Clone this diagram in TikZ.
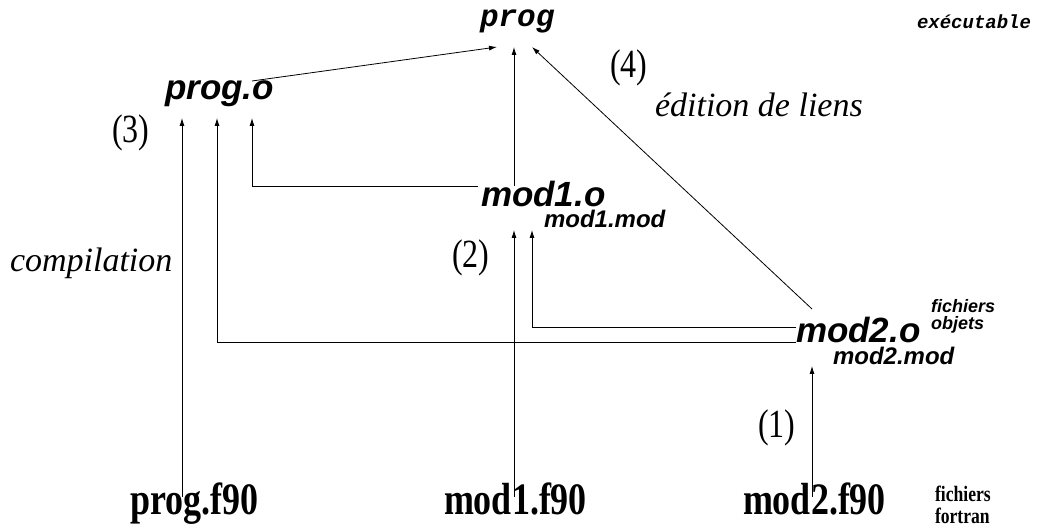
\documentclass[tikz,border=0pt]{standalone}
\usepackage{fontspec}
\setmainfont{Liberation Serif}
\setsansfont{Liberation Sans}
\setmonofont{Liberation Mono}
\usetikzlibrary{arrows.meta}
\tikzset{
  conn/.style={line width=0.8pt,-{Latex[length=8pt,width=5pt]}},
  lbl/.style={anchor=base west,inner sep=0pt,outer sep=0pt},
  exe/.style={lbl,font=\fontsize{31}{31}\ttfamily\bfseries\itshape},
  obj/.style={lbl,font=\fontsize{35}{35}\sffamily\bfseries\itshape},
  modf/.style={lbl,font=\fontsize{24}{24}\sffamily\bfseries\itshape},
  smallsans/.style={lbl,font=\fontsize{18}{18}\sffamily\bfseries\itshape},
  src/.style={lbl,font=\fontsize{45}{45}\rmfamily\bfseries},
  num/.style={lbl,font=\fontsize{40}{40}\rmfamily},
  step text/.style={lbl,font=\fontsize{34}{34}\rmfamily\itshape},
  smallser/.style={lbl,font=\fontsize{22}{22}\rmfamily\bfseries},
}
\newcommand{\narrow}[1]{\scalebox{0.8}[1]{#1}}
\begin{document}
\begin{tikzpicture}[x=1pt,y=-1pt]
\useasboundingbox (0,0) rectangle (1037,526);
% labels
\node[exe] (prog) at (480,27) {prog};
\node[lbl,font=\fontsize{19}{19}\ttfamily\bfseries\itshape] (exec) at (917,29) {exécutable};
\node[obj] (progo) at (165,100) {prog.o};
\node[num] (n4) at (610,78) {\narrow{(4)}};
\node[step text] (edl) at (655,117) {édition de liens};
\node[num] (n3) at (112,143) {\narrow{(3)}};
\node[obj] (mod1o) at (481,207) {mod1.o};
\node[modf] (mod1mod) at (544,228) {mod1.mod};
\node[num] (n2) at (452,268) {\narrow{(2)}};
\node[step text] (comp) at (10,272) {compilation};
\node[smallsans] (fobj1) at (931,313) {fichiers};
\node[smallsans] (fobj2) at (931,330) {objets};
\node[obj] (mod2o) at (796,343) {mod2.o};
\node[modf] (mod2mod) at (833,365) {mod2.mod};
\node[num] (n1) at (758,438) {\narrow{(1)}};
\node[src] (progf) at (130,515) {\narrow{prog.f90}};
\node[src] (mod1f) at (444,515) {\narrow{mod1.f90}};
\node[src] (mod2f) at (743,515) {\narrow{mod2.f90}};
\node[smallser] (ff1) at (935,502) {\narrow{fichiers}};
\node[smallser] (ff2) at (935,524) {\narrow{fortran}};
% anchor points
\coordinate (pA) at (182,118);
\coordinate (pB) at (217,118);
\coordinate (pC) at (252,118);
\coordinate (pD) at (252,81);
\coordinate (gA) at (497,47);
\coordinate (gB) at (514,47);
\coordinate (gC) at (532,47);
\coordinate (m1top) at (514,186);
\coordinate (m1l) at (478,186);
\coordinate (m1A) at (514,230);
\coordinate (m1B) at (532,230);
\coordinate (m2d) at (812,309);
\coordinate (m2u) at (796,327);
\coordinate (m2l) at (796,342);
\coordinate (m2b) at (812,366);
\coordinate (s0) at (182,497);
\coordinate (s1) at (514,497);
\coordinate (s2) at (812,497);
% connectors
\draw[conn] (s0) -- (pA);
\draw[conn] (m2l) -- (pB |- m2l) -- (pB);
\draw[conn] (m1l) -- (pC |- m1l) -- (pC);
\draw[conn] (pD) -- (gA);
\draw[conn] (m1top) -- (gB);
\draw[conn] (m2d) -- (gC);
\draw[conn] (s1) -- (m1A);
\draw[conn] (m2u) -- (m1B |- m2u) -- (m1B);
\draw[conn] (s2) -- (m2b);
\end{tikzpicture}
\end{document}
